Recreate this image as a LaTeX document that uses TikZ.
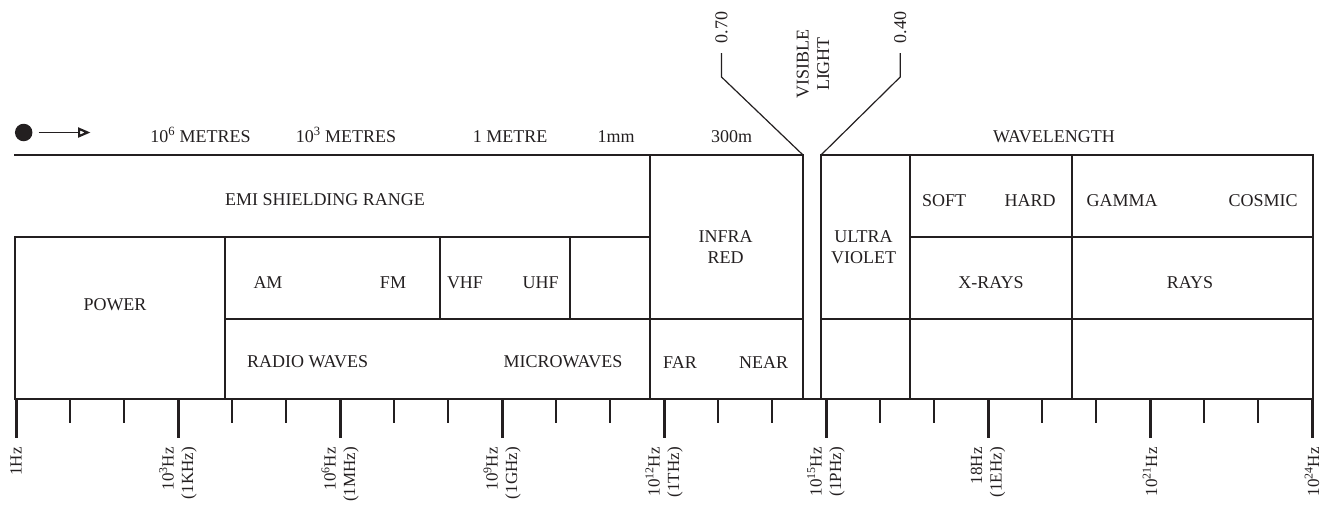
\documentclass[tikz,border=0pt]{standalone}
\usepackage{fontspec}
\setmainfont{Liberation Serif}
\usetikzlibrary{arrows.meta}
\definecolor{specink}{RGB}{35,31,32}
\tikzset{
  cell/.style={draw=specink, line width=1.2pt, line cap=rect},
  lab/.style={font=\fontsize{18}{20.5}\selectfont, text=specink, inner sep=0pt, anchor=base},
  twolab/.style={lab, anchor=center, align=center},
  vlab/.style={font=\fontsize{18}{20.5}\selectfont, text=specink, inner sep=0pt, rotate=90},
  freq/.style={vlab, font=\fontsize{17}{19.5}\selectfont, anchor=east, align=right},
  mintick/.style={draw=specink, line width=1.3pt},
  majtick/.style={draw=specink, line width=3pt},
  dirarr/.style={-{Triangle[open, length=12.5pt, width=10pt, line width=2.2pt]}, specink, line width=1.4pt},
  dotmark/.style={circle, fill=specink, minimum size=17.5pt, inner sep=0pt},
}

\begin{document}
\begin{tikzpicture}[x=1pt, y=-1pt]
    \useasboundingbox (0,0) rectangle (1329,504);
    % wavelength row
    \node[dotmark] (dot) at (23.7,132.5) {};
    \coordinate (arrend) at (90.5,132.5);
    \draw[dirarr] ([xshift=6pt]dot.east) -- (arrend);
    \node[lab] (m6) at (200.5,142) {10\textsuperscript{6} METRES};
    \node[lab] (m3) at (346,142) {10\textsuperscript{3} METRES};
    \node[lab] (m0) at (510,142) {1 METRE};
    \node[lab] (mm) at (616,142) {1mm};
    \node[lab] (um) at (731.7,142) {300m};
    \node[lab] (wl) at (1054,142) {WAVELENGTH};
    % visible light
    \node[vlab, anchor=west] (r070) at (721.5,43.5) {0.70};
    \node[vlab, anchor=west] (r040) at (900.2,43.5) {0.40};
    \node[vlab, align=center] (vis) at (813,64) {VISIBLE\\LIGHT};
    \coordinate (irtop) at (803,155);
    \coordinate (uvtop) at (821,155);
    \draw[cell, line cap=butt] (r070.west) ++(0,9.5) -- ++(0,24) -- (irtop);
    \draw[cell, line cap=butt] (r040.west) ++(0,9.5) -- ++(0,24) -- (uvtop);
    % cells
    \draw[cell] (15,155) -- (irtop) (uvtop) -- (1313,155);
    \draw[cell] (15,237) -- (650,237) (910,237) -- (1313,237);
    \draw[cell] (225,319) -- (803,319) (821,319) -- (1313,319);
    \draw[cell] (15,399) -- (1313,399);
    \foreach \xa in {15,225} \draw[cell] (\xa,237) -- (\xa,399);
    \foreach \xa in {440,570} \draw[cell] (\xa,237) -- (\xa,319);
    \foreach \xa in {650,803,821,910,1072,1313} \draw[cell] (\xa,155) -- (\xa,399);
    \node[lab] (emi) at (325,205) {EMI SHIELDING RANGE};
    \node[lab] (pow) at (115,310) {POWER};
    \node[lab] (am) at (268,288) {AM};
    \node[lab] (fm) at (393,288) {FM};
    \node[lab] (vhf) at (465,288) {VHF};
    \node[lab] (uhf) at (540.6,288) {UHF};
    \node[lab] (radio) at (307.6,367) {RADIO WAVES};
    \node[lab] (micro) at (563,367) {MICROWAVES};
    \node[twolab] (ir) at (725.6,247) {INFRA\\RED};
    \node[lab] (far) at (680,368) {FAR};
    \node[lab] (near) at (763.5,368) {NEAR};
    \node[twolab] (uv) at (863.5,247) {ULTRA\\VIOLET};
    \node[lab] (soft) at (944,206.7) {SOFT};
    \node[lab] (hard) at (1030,206.7) {HARD};
    \node[lab] (gam) at (1122,206.7) {GAMMA};
    \node[lab] (cos) at (1263,206.7) {COSMIC};
    \node[lab] (xr) at (991,288) {X-RAYS};
    \node[lab] (rays) at (1190,288) {RAYS};
    % frequency scale
    \foreach \k in {0,...,24} \draw[mintick] ({16+54*\k},399) -- ++(0,24);
    \foreach \k in {0,3,...,24} \draw[majtick] ({16+54*\k},399) -- ++(0,39);
    \foreach \k/\txt in {0/1Hz, 3/{10\textsuperscript{3}Hz\\(1KHz)},
        6/{10\textsuperscript{6}Hz\\(1MHz)}, 9/{10\textsuperscript{9}Hz\\(1GHz)},
        12/{10\textsuperscript{12}Hz\\(1THz)}, 15/{10\textsuperscript{15}Hz\\(1PHz)},
        18/{18Hz\\(1EHz)}, 21/{10\textsuperscript{21}Hz}, 24/{10\textsuperscript{24}Hz}}
      \node[freq] (f\k) at ({16+54*\k},447) {\txt};
  \end{tikzpicture}
\end{document}
